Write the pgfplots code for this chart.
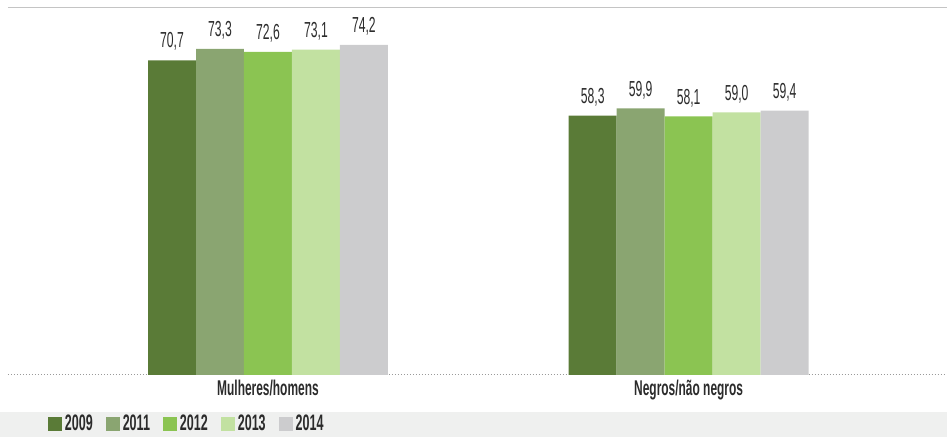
\documentclass[border=0pt]{standalone}
\usepackage{pgfplots}
\pgfplotsset{compat=1.18}
\usepackage{fontspec}
\setmainfont{Liberation Sans}[FakeStretch=0.56]
\definecolor{c2009}{HTML}{5A7B37}
\definecolor{c2011}{HTML}{8AA571}
\definecolor{c2012}{HTML}{8BC452}
\definecolor{c2013}{HTML}{C2E1A1}
\definecolor{c2014}{HTML}{CCCCCE}
\definecolor{band}{HTML}{EFF0EF}
\definecolor{txt}{HTML}{2B2B2B}
\definecolor{dots}{HTML}{9A9A9A}
\definecolor{topline}{HTML}{C4C4C4}
\begin{document}
\begin{tikzpicture}
\fill[band] (-6pt,-46.5pt) rectangle (704.25pt,-27.75pt);
\draw[topline, line width=0.7pt] (0pt,275.4pt) -- (704.25pt,275.4pt);
\begin{axis}[
  set layers, clip=false,
  at={(0pt,0pt)}, anchor=south west,
  scale only axis,
  width=704.25pt, height=276pt,
  xmin=-0.618, xmax=1.613,
  ymin=0, ymax=82.7,
  ybar=0pt, bar width=36pt,
  axis line style={draw=none},
  major tick length=0pt,
  ytick=\empty,
  xtick={0,1},
  xticklabels={Mulheres/homens,Negros/não negros},
  xticklabel style={font=\fontsize{16}{18}\selectfont\bfseries, text=txt, yshift=-0.5pt},
  nodes near coords,
  every node near coord/.append style={font=\fontsize{16.3}{18}\selectfont, text=txt, anchor=south, inner sep=0pt, yshift=7pt},
  /pgf/number format/.cd, assume math mode=true, use comma, fixed, precision=1, fixed zerofill,
  /pgfplots/.cd,
  legend columns=5,
  legend style={at={(axis description cs:0.0426,-0.1332)}, anchor=west, draw=none, fill=none, inner sep=0pt,
    font=\fontsize{16.8}{18}\selectfont\bfseries, text=txt,
    /tikz/every even column/.append style={column sep=8pt}},
  legend image code/.code={\fill[#1] (0pt,-5.25pt) rectangle (10.5pt,5.25pt);},
]
\addplot[fill=c2009, draw=none] coordinates {(0,70.7) (1,58.3)};
\addplot[fill=c2011, draw=none] coordinates {(0,73.3) (1,59.9)};
\addplot[fill=c2012, draw=none] coordinates {(0,72.6) (1,58.1)};
\addplot[fill=c2013, draw=none] coordinates {(0,73.1) (1,59.0)};
\addplot[fill=c2014, draw=none] coordinates {(0,74.2) (1,59.4)};
\legend{2009,2011,2012,2013,2014}
\begin{pgfonlayer}{axis background}
\draw[dots, line width=0.75pt, dash pattern=on 0.75pt off 1.5pt] (rel axis cs:0,0) -- (rel axis cs:1,0);
\end{pgfonlayer}
\end{axis}
\path[use as bounding box] (-6pt,-46.5pt) rectangle (704.25pt,281.25pt);
\end{tikzpicture}
\end{document}
